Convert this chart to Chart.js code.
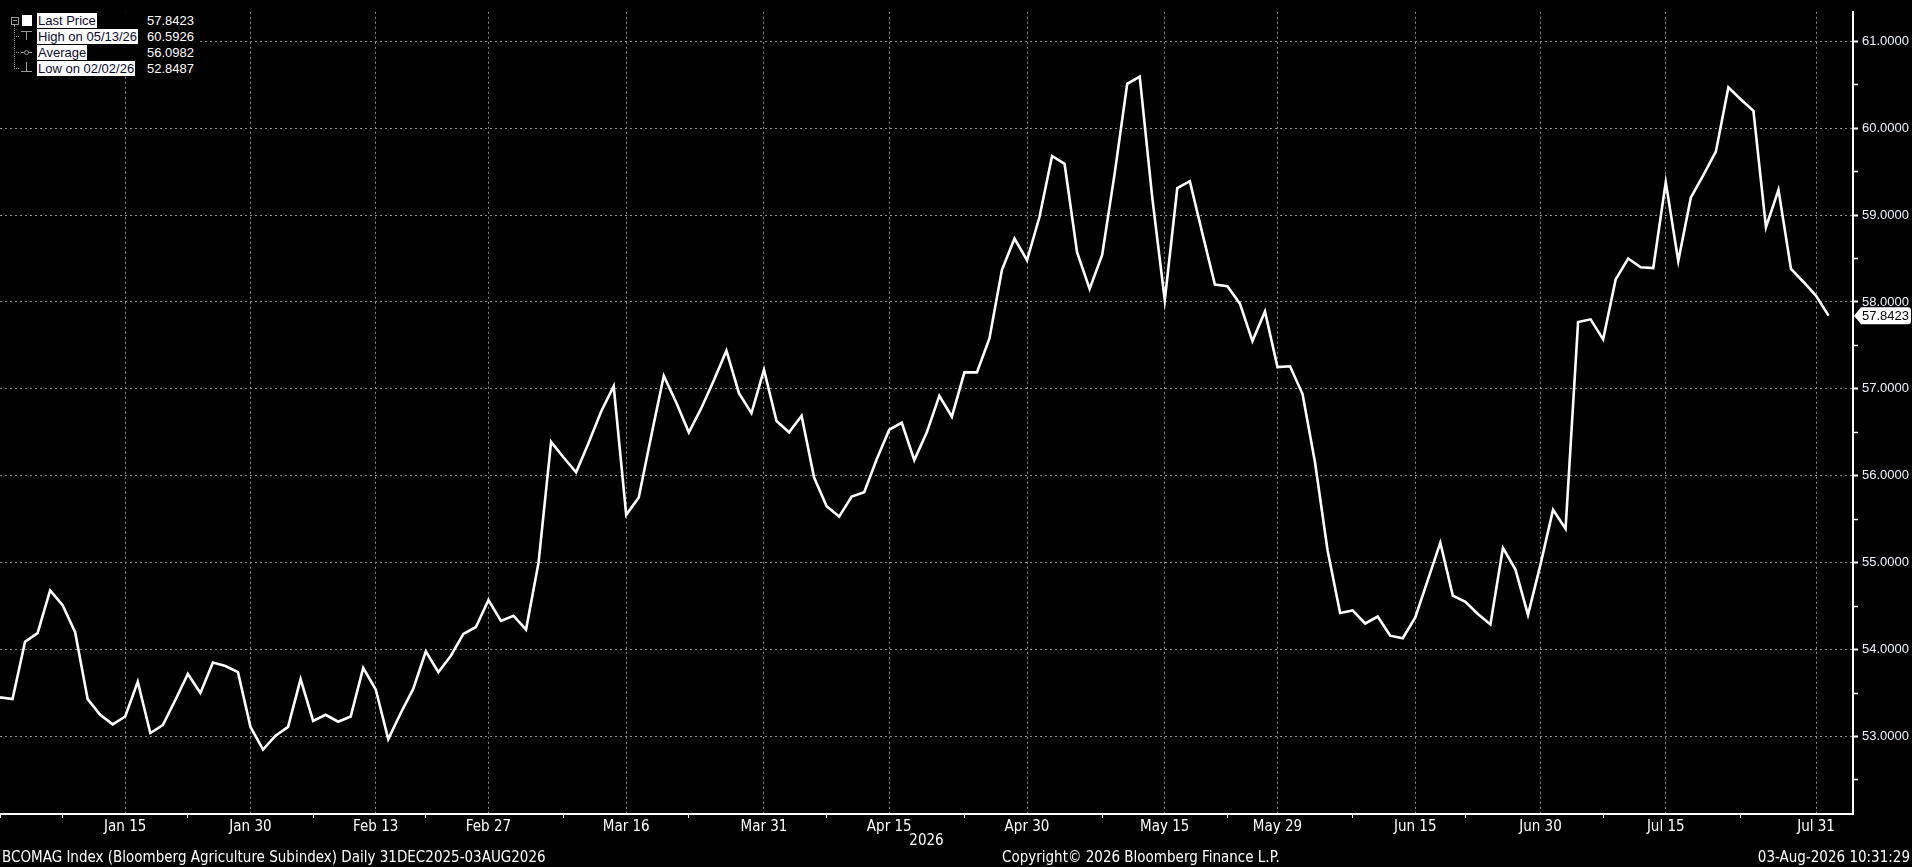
<!DOCTYPE html>
<html>
<head>
<meta charset="utf-8">
<script src="https://cdn.jsdelivr.net/npm/chart.js@4.4.1/dist/chart.umd.min.js"></script>
<style>
html,body{margin:0;padding:0;background:#000;width:1912px;height:867px;overflow:hidden;}
#wrap{position:relative;width:1912px;height:867px;background:#000;}
#c{position:absolute;left:0;top:0;}
#legend{position:absolute;left:0;top:12px;width:200px;height:64px;background:#000;font-family:'Liberation Sans',Arial,sans-serif;font-size:13px;}
#legend .lab{position:absolute;left:37px;height:15px;line-height:15px;background:#fff;color:#0c0c30;padding:0 1px;white-space:nowrap;}
#legend .val{position:absolute;right:6px;height:15px;line-height:15px;color:#fff;white-space:nowrap;}
#legend .g{position:absolute;background:#9a9a9a;}
.foot{position:absolute;top:849px;font-family:'Liberation Sans Narrow','Arial Narrow','DejaVu Sans Condensed',sans-serif;font-size:15px;line-height:17px;color:#fff;white-space:nowrap;}
</style>
</head>
<body>
<div id="wrap">
<canvas id="c" width="1912" height="867"></canvas>
<div id="legend"></div>
<div class="foot" style="left:2px;">BCOMAG Index (Bloomberg Agriculture Subindex) Daily 31DEC2025-03AUG2026</div>
<div class="foot" style="left:1002px;">Copyright© 2026 Bloomberg Finance L.P.</div>
<div class="foot" style="right:2px;">03-Aug-2026 10:31:29</div>
</div>
<script>
// ---- data (trading-day index 0 = 31 Dec 2025 ... 146 = 03 Aug 2026) ----
const values = [
 53.45,53.43,54.09,54.19,54.68,54.51,54.20,53.43,53.25,53.14,
 53.23,53.63,53.04,53.13,53.42,53.72,53.50,53.85,53.81,53.74,
 53.11,52.8487,53.01,53.11,53.66,53.18,53.25,53.17,53.23,53.79,
 53.54,52.97,53.27,53.55,53.98,53.74,53.93,54.18,54.26,54.57,
 54.33,54.39,54.23,55.00,56.39,56.21,56.04,56.38,56.74,57.03,
 55.55,55.75,56.46,57.15,56.84,56.50,56.78,57.10,57.44,56.95,
 56.72,57.22,56.63,56.50,56.69,55.98,55.65,55.53,55.76,55.81,
 56.19,56.53,56.61,56.18,56.50,56.92,56.68,57.19,57.19,57.58,
 58.37,58.73,58.48,58.98,59.68,59.59,58.57,58.15,58.54,59.48,
 60.51,60.5926,59.20,58.02,59.31,59.39,58.79,58.20,58.18,57.98,
 57.55,57.89,57.25,57.26,56.94,56.15,55.14,54.42,54.45,54.30,
 54.38,54.16,54.13,54.37,54.80,55.23,54.62,54.55,54.41,54.29,
 55.17,54.92,54.40,54.98,55.61,55.39,57.77,57.80,57.57,58.26,
 58.50,58.40,58.39,59.38,58.47,59.20,59.46,59.73,60.47,60.33,
 60.20,58.86,59.29,58.38,58.23,58.07,57.8423
];
const majorTickIdx = [10,20,30,39,50,61,71,82,93,102,113,123,133,145];
const majorTickLabels = ['Jan 15','Jan 30','Feb 13','Feb 27','Mar 16','Mar 31','Apr 15','Apr 30','May 15','May 29','Jun 15','Jun 30','Jul 15','Jul 31'];
const minorTickIdx = [0,5,15,25,34,45,55,66,77,88,98,108,117,128,139];
const yearLabel = '2026';
const yMajorTicks = [53,54,55,56,57,58,59,60,61];
const yMinorTicks = [52.5,53.5,54.5,55.5,56.5,57.5,58.5,59.5,60.5];
const legendLabels = ['Last Price','High on 05/13/26','Average','Low on 02/02/26'];
const legendValues = ['57.8423','60.5926','56.0982','52.8487'];

// ---- legend (HTML text) ----
(function(){
  const lg = document.getElementById('legend');
  let h = '';
  const tops = [1,17,33,49];
  legendLabels.forEach((t,i)=>{
    h += '<div class="lab" style="top:'+tops[i]+'px">'+t+'</div>';
    h += '<div class="val" style="top:'+tops[i]+'px">'+legendValues[i]+'</div>';
  });
  h += '<div style="position:absolute;left:11px;top:5px;width:6px;height:6px;border:1px solid #9a9a9a;"></div>';
  h += '<div class="g" style="left:13px;top:8px;width:4px;height:1px;"></div>';
  h += '<div style="position:absolute;left:22px;top:3px;width:10px;height:11px;background:#fff;"></div>';
  h += '<div style="position:absolute;left:14px;top:13px;width:0;height:44px;border-left:1px dotted #9a9a9a;"></div>';
  [24,40,56].forEach(y=>{ h += '<div style="position:absolute;left:14px;top:'+y+'px;width:5px;height:0;border-top:1px dotted #9a9a9a;"></div>'; });
  h += '<div class="g" style="left:21px;top:19px;width:11px;height:1px;"></div>';
  h += '<div class="g" style="left:26px;top:19px;width:1px;height:9px;"></div>';
  h += '<div class="g" style="left:21px;top:40px;width:11px;height:1px;"></div>';
  h += '<div style="position:absolute;left:24px;top:38px;width:3px;height:3px;border:1px solid #9a9a9a;border-radius:50%;background:#000;"></div>';
  h += '<div class="g" style="left:26px;top:50px;width:1px;height:9px;"></div>';
  h += '<div class="g" style="left:21px;top:59px;width:11px;height:1px;"></div>';
  lg.innerHTML = h;
})();

const gridGray = '#8c8c8c';
const lastTag = {
  id: 'lastTag',
  afterDraw(chart){
    const v = values[values.length-1];
    const y = chart.scales.y.getPixelForValue(v);
    const x0 = chart.chartArea.right;
    const ctx = chart.ctx;
    ctx.save();
    ctx.setLineDash([]);
    ctx.fillStyle = '#fff';
    ctx.beginPath();
    ctx.moveTo(x0+1, y);
    ctx.lineTo(x0+8, y-8.5);
    ctx.lineTo(1908, y-8.5);
    ctx.quadraticCurveTo(1911, y-8.5, 1911, y-5);
    ctx.lineTo(1911, y+5);
    ctx.quadraticCurveTo(1911, y+8.5, 1908, y+8.5);
    ctx.lineTo(x0+8, y+8.5);
    ctx.closePath();
    ctx.fill();
    ctx.fillStyle = '#000';
    ctx.font = '13px "Liberation Sans", Arial, sans-serif';
    ctx.textBaseline = 'middle';
    ctx.textAlign = 'left';
    ctx.fillText(v.toFixed(4), x0+9, y+0.5);
    ctx.restore();
  }
};

const isMajorX = v => majorTickIdx.includes(v);
const isMajorY = v => yMajorTicks.includes(v);

new Chart(document.getElementById('c'), {
  type: 'line',
  data: {
    datasets: [{
      data: values.map((v,i)=>({x:i, y:v})),
      borderColor: '#ffffff',
      borderWidth: 2.6,
      pointRadius: 0,
      tension: 0,
      fill: false
    }]
  },
  options: {
    responsive: false,
    animation: false,
    devicePixelRatio: 1,
    layout: { padding: 0 },
    plugins: { legend: {display:false}, tooltip: {enabled:false} },
    scales: {
      x: {
        type: 'linear',
        position: 'bottom',
        min: 0,
        max: 147.95,
        afterBuildTicks: s => { s.ticks = majorTickIdx.concat(minorTickIdx).sort((a,b)=>a-b).map(v=>({value:v})); },
        afterFit: s => { s.height = 53; },
        grid: {
          color: c => (c.tick && isMajorX(c.tick.value)) ? gridGray : 'rgba(0,0,0,0)',
          tickColor: c => (c.tick && isMajorX(c.tick.value)) ? 'rgba(0,0,0,0)' : '#ffffff',
          lineWidth: 1,
          tickLength: 4,
          tickBorderDash: [],
          drawTicks: true
        },
        border: { display: true, color: '#ffffff', width: 2, dash: [2,3] },
        ticks: {
          autoSkip: false,
          maxRotation: 0,
          minRotation: 0,
          padding: 0,
          color: '#ffffff',
          font: { family: "'Liberation Sans Narrow','Arial Narrow','DejaVu Sans Condensed',sans-serif", size: 15 },
          callback: v => { const k = majorTickIdx.indexOf(v); return k >= 0 ? majorTickLabels[k] : ''; }
        },
        title: {
          display: true,
          text: yearLabel,
          color: '#ffffff',
          font: { family: "'Liberation Sans Narrow','Arial Narrow','DejaVu Sans Condensed',sans-serif", size: 15 },
          padding: { top: 0, bottom: 17 }
        }
      },
      y: {
        type: 'linear',
        position: 'right',
        min: 52.108,
        max: 61.339,
        afterBuildTicks: s => { s.ticks = yMajorTicks.concat(yMinorTicks).sort((a,b)=>a-b).map(v=>({value:v})); },
        afterFit: s => { s.width = 59; },
        grid: {
          color: c => (c.tick && isMajorY(c.tick.value)) ? gridGray : 'rgba(0,0,0,0)',
          tickColor: '#ffffff',
          tickWidth: c => (c.tick && isMajorY(c.tick.value)) ? 2 : 1.5,
          lineWidth: 1,
          tickLength: 5,
          tickBorderDash: [],
          drawTicks: true
        },
        border: { display: true, color: '#ffffff', width: 2, dash: [2,3] },
        ticks: {
          autoSkip: false,
          padding: 4,
          color: '#eef2ff',
          font: { family: "'Liberation Sans',Arial,sans-serif", size: 13 },
          callback: v => isMajorY(v) ? v.toFixed(4) : ''
        }
      }
    }
  },
  plugins: [lastTag]
});
</script>
</body>
</html>
